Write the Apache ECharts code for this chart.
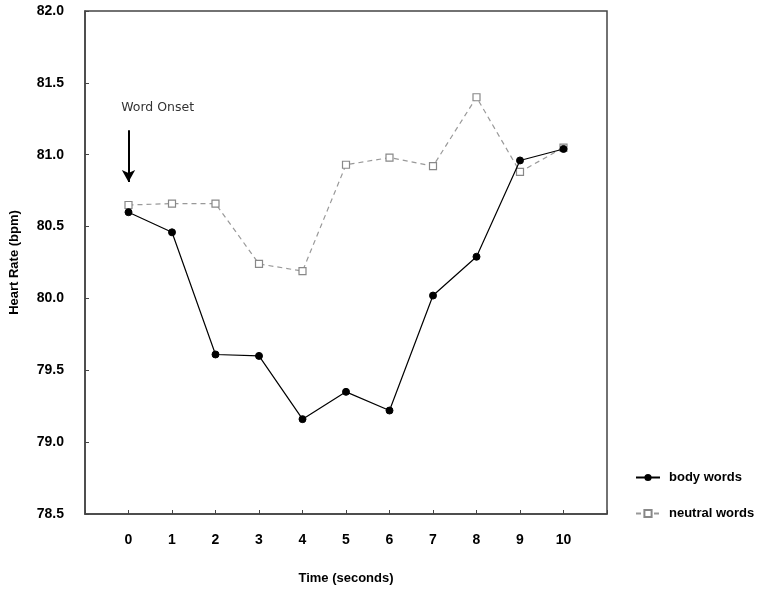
<!DOCTYPE html>
<html>
<head>
<meta charset="utf-8">
<script src="https://cdn.jsdelivr.net/npm/echarts@6/dist/echarts.min.js"></script>
<style>html,body{margin:0;padding:0;background:#fff}#c{width:759px;height:590px}</style>
</head>
<body>
<div id="c"></div>
<script>
var timePoints = [0,1,2,3,4,5,6,7,8,9,10];
var bodyWords = [80.60,80.46,79.61,79.60,79.16,79.35,79.22,80.02,80.29,80.96,81.04];
var neutralWords = [80.65,80.66,80.66,80.24,80.19,80.93,80.98,80.92,81.40,80.88,81.05];
var yTicks = [78.5,79.0,79.5,80.0,80.5,81.0,81.5,82.0];

function pairs(vals){ return timePoints.map(function(t,i){ return [t, vals[i]]; }); }

var chart = echarts.init(document.getElementById('c'));
var font = 'Liberation Sans, Arial, sans-serif';
chart.setOption({
  animation:false,
  grid:{left:83,right:152,top:11,bottom:75,show:true,borderColor:'#444',borderWidth:1.5,backgroundColor:'transparent'},
  xAxis:{
    type:'value',min:-1,max:11,interval:1,
    name:'Time (seconds)',nameLocation:'middle',nameGap:58,
    nameTextStyle:{fontFamily:font,fontWeight:'bold',fontSize:13,color:'#000'},
    axisLine:{show:true,onZero:false,lineStyle:{color:'#444',width:1.5}},
    axisTick:{show:true,inside:true,length:4,lineStyle:{color:'#444'}},
    splitLine:{show:false},
    axisLabel:{margin:19,fontFamily:font,fontWeight:'bold',fontSize:14,color:'#000',
      formatter:function(v){ return (v<0||v>10)?'':String(v); }}
  },
  yAxis:{
    type:'value',min:yTicks[0],max:yTicks[yTicks.length-1],interval:0.5,
    name:'Heart Rate (bpm)',nameLocation:'middle',nameGap:64,nameRotate:90,
    nameTextStyle:{fontFamily:font,fontWeight:'bold',fontSize:13,color:'#000'},
    axisLine:{show:true,onZero:false,lineStyle:{color:'#444',width:1.5}},
    axisTick:{show:true,inside:true,length:4,lineStyle:{color:'#444'}},
    splitLine:{show:false},
    axisLabel:{margin:21,fontFamily:font,fontWeight:'bold',fontSize:14,color:'#000',
      formatter:function(v){ return v.toFixed(1); }}
  },
  legend:{
    orient:'vertical',left:630,top:466,itemGap:23,itemWidth:24,itemHeight:9,
    textStyle:{fontFamily:font,fontWeight:'bold',fontSize:13,color:'#000',padding:[0,0,0,4]},
    data:['body words','neutral words']
  },
  series:[
    {
      name:'body words',type:'line',data:pairs(bodyWords),
      symbol:'circle',symbolSize:7,
      lineStyle:{color:'#000',width:1.2},
      itemStyle:{color:'#000',borderColor:'#000'},
      z:3,
      markLine:{
        silent:true,symbol:['none','arrow'],symbolSize:[10,12],
        lineStyle:{color:'#000',width:2,type:'solid'},
        label:{show:false},
        data:[[{coord:[0,81.17]},{coord:[0,80.81]}]]
      },
      markPoint:{
        silent:true,symbol:'circle',symbolSize:0,
        label:{show:true,formatter:'Word Onset',fontFamily:'DejaVu Sans, sans-serif',fontSize:12.5,color:'#333',position:'inside'},
        data:[{coord:[0.67,81.33]}]
      }
    },
    {
      name:'neutral words',type:'line',data:pairs(neutralWords),
      symbol:'rect',symbolSize:7,
      lineStyle:{color:'#999',width:1.2,type:[5,4]},
      itemStyle:{color:'#fff',borderColor:'#888',borderWidth:1.2},
      z:2
    }
  ]
});
</script>
</body>
</html>
